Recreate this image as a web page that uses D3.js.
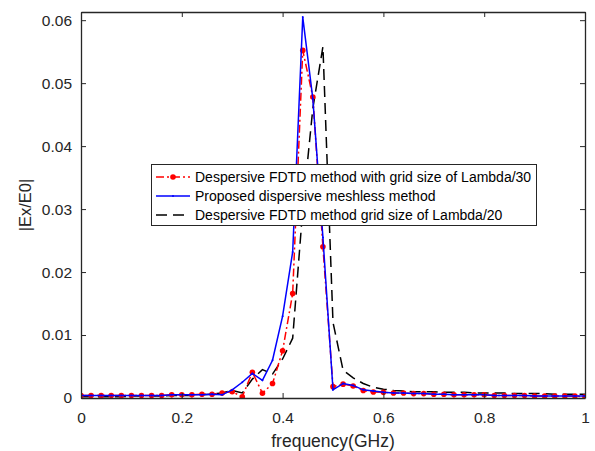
<!DOCTYPE html>
<html><head><meta charset="utf-8">
<script src="https://cdn.jsdelivr.net/npm/d3@7"></script>
<style>body{margin:0;background:#fff}svg{display:block}</style>
</head><body>
<script>
const freq = d3.range(51).map(i => +(i*0.02).toFixed(2));
const fdtd30 = [0.0004,0.0004,0.0004,0.0004,0.0004,0.0004,0.0004,0.0004,0.0004,0.0005,
  0.0005,0.0005,0.0006,0.0006,0.0008,0.001,0.0002,0.0041,0.00075,0.0023,
  0.0075,0.0166,0.0552,0.0478,0.024,0.0018,0.0022,0.0019,0.0012,0.00095,
  0.0009,0.0008,0.0008,0.0007,0.0007,0.0006,0.0006,0.0005,0.0005,0.0005,
  0.0005,0.0004,0.0004,0.0004,0.0004,0.0003,0.0003,0.0003,0.0003,0.0003,0.0002];
const meshless = [0.0004,0.0004,0.0004,0.0004,0.0004,0.0004,0.0004,0.0004,0.0004,0.0005,
  0.0005,0.0005,0.0005,0.0006,0.0005,0.0013,0.0025,0.0039,0.0028,0.006,
  0.013,0.0232,0.0605,0.0475,0.0255,0.0013,0.0023,0.002,0.0013,0.0011,
  0.0009,0.0008,0.0008,0.0007,0.0007,0.0006,0.0006,0.0005,0.0005,0.0005,
  0.0005,0.0004,0.0004,0.0004,0.0004,0.0003,0.0003,0.0003,0.0003,0.0003,0.0003];
const fdtd20 = [0.0002,0.0002,0.0002,0.0002,0.0002,0.0003,0.0003,0.0003,0.0003,0.0004,
  0.0004,0.0004,0.0005,0.0006,0.0008,0.0012,0.0008,0.003,0.0045,0.0038,
  0.0062,0.0095,0.030,0.046,0.0558,0.012,0.0044,0.0032,0.0023,0.0017,
  0.0014,0.0012,0.0011,0.001,0.001,0.001,0.0009,0.0009,0.0009,0.0008,
  0.0008,0.0008,0.0008,0.0007,0.0007,0.0007,0.0007,0.0006,0.0006,0.0006,0.0006];
const xTicks = [0,0.2,0.4,0.6,0.8,1];
const yTicks = [0,0.01,0.02,0.03,0.04,0.05,0.06];
const seriesNames = ["Despersive FDTD method with grid size of Lambda/30","Proposed dispersive meshless method","Despersive FDTD method grid size of Lambda/20"];

const W=595,H=451, L=81,R=585,T=12,B=398;
const svg=d3.select("body").append("svg").attr("width",W).attr("height",H)
  .style("font-family","'Liberation Sans',Arial,sans-serif");
const x=d3.scaleLinear().domain([0,1]).range([L,R]);
const y=d3.scaleLinear().domain([0,0.0613]).range([B,T]);
const axC="#262626";
svg.append("clipPath").attr("id","c").append("rect").attr("x",L).attr("y",T).attr("width",R-L).attr("height",B-T);
const g=svg.append("g").attr("clip-path","url(#c)");
const line=v=>d3.line().x((d,i)=>x(freq[i])).y(d=>y(d))(v);
g.append("path").attr("d",line(fdtd20)).attr("fill","none").attr("stroke","#000").attr("stroke-width",1.5).attr("stroke-dasharray","11,6");
g.append("path").attr("d",line(fdtd30)).attr("fill","none").attr("stroke","#ff0000").attr("stroke-width",1.5).attr("stroke-dasharray","8,3,2,3");
g.selectAll("circle.r").data(fdtd30).enter().append("circle").attr("cx",(d,i)=>x(freq[i])).attr("cy",d=>y(d)).attr("r",2.8).attr("fill","#ff0000");
g.append("path").attr("d",line(meshless)).attr("fill","none").attr("stroke","#0000ff").attr("stroke-width",1.5);
g.selectAll("circle.b").data(meshless).enter().append("circle").attr("cx",(d,i)=>x(freq[i])).attr("cy",d=>y(d)).attr("r",1).attr("fill","#0000ff");

// axes
const ax=svg.append("g");
ax.append("g").attr("transform",`translate(0,${B})`).call(d3.axisBottom(x).tickValues(xTicks).tickFormat(d3.format("~g")).tickSizeInner(-5).tickSizeOuter(0).tickPadding(14));
ax.append("g").attr("transform",`translate(0,${T})`).call(d3.axisTop(x).tickValues(xTicks).tickFormat("").tickSizeInner(-5).tickSizeOuter(0));
ax.append("g").attr("transform",`translate(${L},0)`).call(d3.axisLeft(y).tickValues(yTicks).tickFormat(d3.format("~g")).tickSizeInner(-5).tickSizeOuter(0).tickPadding(9));
ax.append("g").attr("transform",`translate(${R},0)`).call(d3.axisRight(y).tickValues(yTicks).tickFormat("").tickSizeInner(-5).tickSizeOuter(0));
ax.selectAll("path.domain").attr("stroke",axC).attr("stroke-width",1.3);
ax.selectAll(".tick line").attr("stroke",axC);
ax.selectAll(".tick text").attr("fill",axC).style("font-size","15.5px");

svg.append("text").attr("x",(L+R)/2).attr("y",447).attr("text-anchor","middle").style("font-size","17.5px").attr("fill",axC).text("frequency(GHz)");
svg.append("text").attr("transform",`translate(31,${(T+B)/2}) rotate(-90)`).attr("text-anchor","middle").style("font-size","16.5px").attr("fill",axC).text("|Ex/E0|");

// legend
const lg=svg.append("g");
lg.append("rect").attr("x",151.5).attr("y",164.5).attr("width",385).attr("height",61).attr("fill","#fff").attr("stroke","#262626").attr("stroke-width",1);
const rows=[177,196,215];
const styles=[{c:"#ff0000",d:"8,3,2,3",m:true},{c:"#0000ff",d:null,m:false,mb:true},{c:"#000",d:"11,6",m:false}];
rows.forEach((ry,i)=>{
  const s=styles[i];
  lg.append("line").attr("x1",156).attr("x2",190).attr("y1",ry).attr("y2",ry).attr("stroke",s.c).attr("stroke-width",1.5).attr("stroke-dasharray",s.d);
  if(s.m) lg.append("circle").attr("cx",173).attr("cy",ry).attr("r",2.8).attr("fill",s.c);
  if(s.mb) lg.append("circle").attr("cx",173).attr("cy",ry).attr("r",1).attr("fill",s.c);
  lg.append("text").attr("x",195).attr("y",ry+5).style("font-size","14px").attr("fill","#000").text(seriesNames[i]);
});
</script>
</body></html>
